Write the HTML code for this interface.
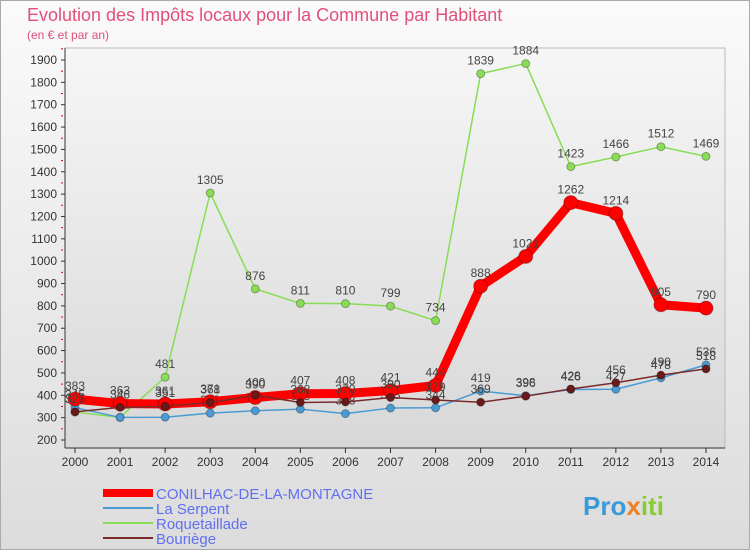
<!DOCTYPE html>
<html><head><meta charset="utf-8"><style>
body{margin:0;width:750px;height:550px;overflow:hidden;font-family:"Liberation Sans",sans-serif;}
#wrap{position:relative;width:748px;height:548px;border:1px solid #aaa;background:linear-gradient(#fafafa,#dcdcdc);}
</style></head><body>
<div id="wrap">
<svg id="chart" width="750" height="550" style="position:absolute;left:-1px;top:-1px">
<defs><linearGradient id="bg" x1="0" y1="0" x2="0" y2="1"><stop offset="0" stop-color="#f6f6f6"/><stop offset="1" stop-color="#d8d8d8"/></linearGradient></defs>
<text x="27" y="21" font-size="18" fill="#e0507a">Evolution des Impôts locaux pour la Commune par Habitant</text>
<text x="27" y="39" font-size="12" fill="#e0507a">(en € et par an)</text>
<g id="axes"></g><g id="series"></g>
<g>
<line x1="103" y1="493" x2="153" y2="493" stroke="#f00" stroke-width="8"/>
<text x="156" y="499" font-size="15" fill="#6070f0">CONILHAC-DE-LA-MONTAGNE</text>
<line x1="103" y1="508" x2="153" y2="508" stroke="#4a9bd4" stroke-width="2"/>
<text x="156" y="514" font-size="15" fill="#6070f0">La Serpent</text>
<line x1="103" y1="523" x2="153" y2="523" stroke="#88dd55" stroke-width="2"/>
<text x="156" y="529" font-size="15" fill="#6070f0">Roquetaillade</text>
<line x1="103" y1="538" x2="153" y2="538" stroke="#7a2a2a" stroke-width="2"/>
<text x="156" y="544" font-size="15" fill="#6070f0">Bouriège</text>
</g>
<text x="583" y="515" font-size="26" font-weight="bold" fill="#3a9ad9">Pro<tspan fill="#f08020">x</tspan><tspan fill="#88cc33">iti</tspan></text>
</svg>
</div>
<script>
const years=["2000","2001","2002","2003","2004","2005","2006","2007","2008","2009","2010","2011","2012","2013","2014"];
const yTicks=[200,300,400,500,600,700,800,900,1000,1100,1200,1300,1400,1500,1600,1700,1800,1900];
const conilhac=[383,363,361,371,390,407,408,421,444,888,1021,1262,1214,805,790];
const serpent=[345,301,302,320,331,338,318,343,344,419,398,426,427,478,536];
const roquetaillade=[325,301,481,1305,876,811,810,799,734,1839,1884,1423,1466,1512,1469];
const bouriege=[326,346,351,368,400,368,370,390,379,369,396,428,456,490,518];
const NS="http://www.w3.org/2000/svg";
const x0=75,x1=706,yTop=60,yBot=440,vMin=200,vMax=1900;
function X(i){return x0+i*(x1-x0)/(years.length-1);}
function Y(v){return yBot-(v-vMin)*(yBot-yTop)/(vMax-vMin);}
function mk(t,a,p){const e=document.createElementNS(NS,t);for(const k in a)e.setAttribute(k,a[k]);p.appendChild(e);return e;}
const ax=document.getElementById('axes');
const plot=mk('rect',{x:65,y:48,width:660,height:400,fill:'url(#bg)',stroke:'#bbb'},ax);


const yl=mk('line',{x1:65,y1:48,x2:65,y2:448,stroke:'#333'},ax);


const xl=mk('line',{x1:65,y1:448,x2:725,y2:448,stroke:'#333'},ax);


yTicks.forEach(v=>{
  mk('line',{x1:61,y1:Y(v),x2:65,y2:Y(v),stroke:'#333'},ax);
  mk('line',{x1:61,y1:Y(v+50),x2:63,y2:Y(v+50),stroke:'#e00'},ax);
  const t=mk('text',{x:57,y:Y(v)+4,'font-size':12,'text-anchor':'end',fill:'#333'},ax);
  t.textContent=v;
  
  
});
years.forEach((y,i)=>{
  mk('line',{x1:X(i),y1:448,x2:X(i),y2:453,stroke:'#333'},ax);
  const t=mk('text',{x:X(i),y:466,'font-size':12,'text-anchor':'middle',fill:'#333'},ax);
  t.textContent=y;
  
  
});
const sg=document.getElementById('series');
function draw(data,color,w,r,name,dot){
  const g=mk('g',{},sg);
  
  
  const pl=mk('polyline',{points:data.map((v,i)=>X(i)+','+Y(v)).join(' '),fill:'none',stroke:color,'stroke-width':w,'stroke-linejoin':'round'},g);
  
  
  data.forEach((v,i)=>{
    const c=mk('circle',{cx:X(i),cy:Y(v),r:r,fill:dot,stroke:'rgba(0,0,0,0.3)'},g);
    
    
    const t=mk('text',{x:X(i),y:Y(v)-9,'font-size':12,'text-anchor':'middle',fill:'#444'},g);
    t.textContent=v;
    
    
  });
}
draw(roquetaillade,'#88dd55',1.5,4,'roquetaillade','#88dd55');
draw(serpent,'#4a9bd4',1.5,4,'serpent','#4a9bd4');
draw(conilhac,'#f00',9,7,'conilhac','#f00');
draw(bouriege,'#7a2a2a',1.5,4,'bouriege','#6a1a1a');
</script>
</body></html>
